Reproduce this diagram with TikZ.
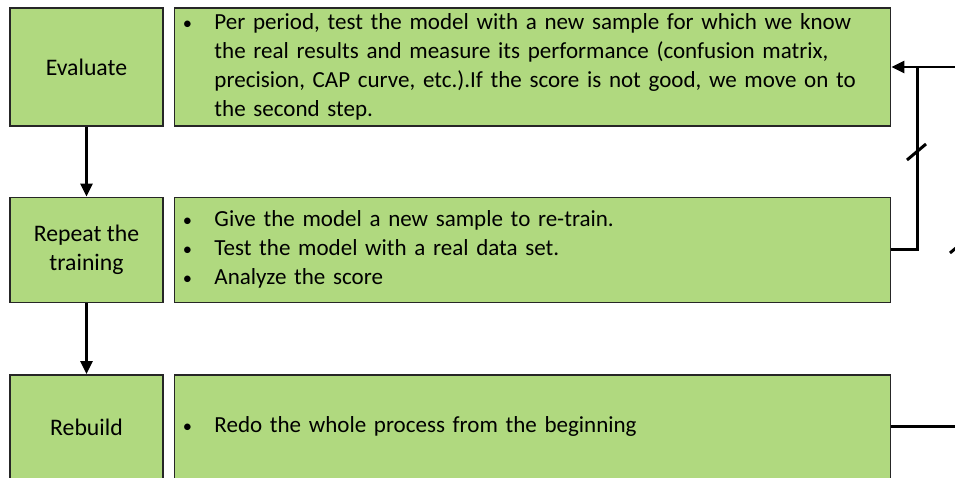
\documentclass[tikz,border=0pt]{standalone}
\usepackage{fontspec}
\setmainfont{Carlito}
\usetikzlibrary{positioning,arrows.meta}

\definecolor{verdebox}{RGB}{176,217,127}
\tikzset{
  fase/.style={draw=black!85, line width=0.85pt, fill=verdebox, minimum width=3.06cm,
    inner sep=0pt, align=center, font=\fontsize{13.5}{16.6}\selectfont},
  descr/.style={draw=black!85, line width=0.85pt, fill=verdebox, text width=14.04cm,
    inner xsep=0.14cm, inner ysep=0pt, align=left, font=\fontsize{13.1}{16.6}\selectfont},
  freccia/.style={line width=1.7pt, -{Triangle[length=7.4pt,width=6.6pt]}},
  linea/.style={line width=1.7pt},
}
\newcommand{\punto}{\makebox[0.24cm]{\fontsize{10.5}{10}\selectfont\textbullet}}

\begin{document}
\begin{tikzpicture}
	\useasboundingbox (0,0) rectangle (19.1,-9.56);
	\clip (0,0) rectangle (19.1,-9.56);

	% Fasi a sinistra
	\node[fase, minimum height=2.36cm] (eval) at (1.73,-1.34) {Evaluate};
	\node[fase, minimum height=2.1cm, below=1.4cm of eval] (repeat) {Repeat the\\training};
	\node[fase, minimum height=2.08cm, below=1.42cm of repeat] (rebuild) {Rebuild};

	% Descrizioni
	\node[descr, minimum height=2.36cm, right=0.2cm of eval] (evaldesc) {%
		\begin{tabular}{@{}p{0.66cm}@{}l@{}}
		\punto & Per period, test the model with a new sample for which we know\\
		       & the real results and measure its performance (confusion matrix,\\
		       & precision, CAP curve, etc.).If the score is not good, we move on to\\
		       & the second step.
		\end{tabular}};
	\node[descr, minimum height=2.1cm, right=0.2cm of repeat] (repeatdesc) {%
		\begin{tabular}{@{}p{0.66cm}@{}l@{}}
		\punto & Give the model a new sample to re-train.\\
		\punto & Test the model with a real data set.\\
		\punto & Analyze the score
		\end{tabular}};
	\node[descr, minimum height=2.08cm, right=0.2cm of rebuild] (rebuilddesc) {%
		\begin{tabular}{@{}p{0.66cm}@{}l@{}}
		\punto & Redo the whole process from the beginning
		\end{tabular}};

	% Frecce verticali
	\draw[freccia] (eval) -- (repeat);
	\draw[freccia] (repeat) -- (rebuild);

	% Ritorno e uscite a destra
	\coordinate[right=0.52cm of evaldesc.east] (giro);
	\coordinate[right=1.5cm of evaldesc.east] (fuorisu);
	\coordinate[right=1.5cm of rebuilddesc.east] (fuorigiu);
	\draw[linea] (repeatdesc.east) -| (giro);
	\draw[freccia] (fuorisu) -- (evaldesc.east);
	\draw[linea] (rebuilddesc.east) -- (fuorigiu);

	% Tagli
	\draw[linea] (18.14,-3.2) -- (18.52,-2.88);
	\draw[linea] (19.0,-5.06) -- (19.38,-4.74);
\end{tikzpicture}
\end{document}
